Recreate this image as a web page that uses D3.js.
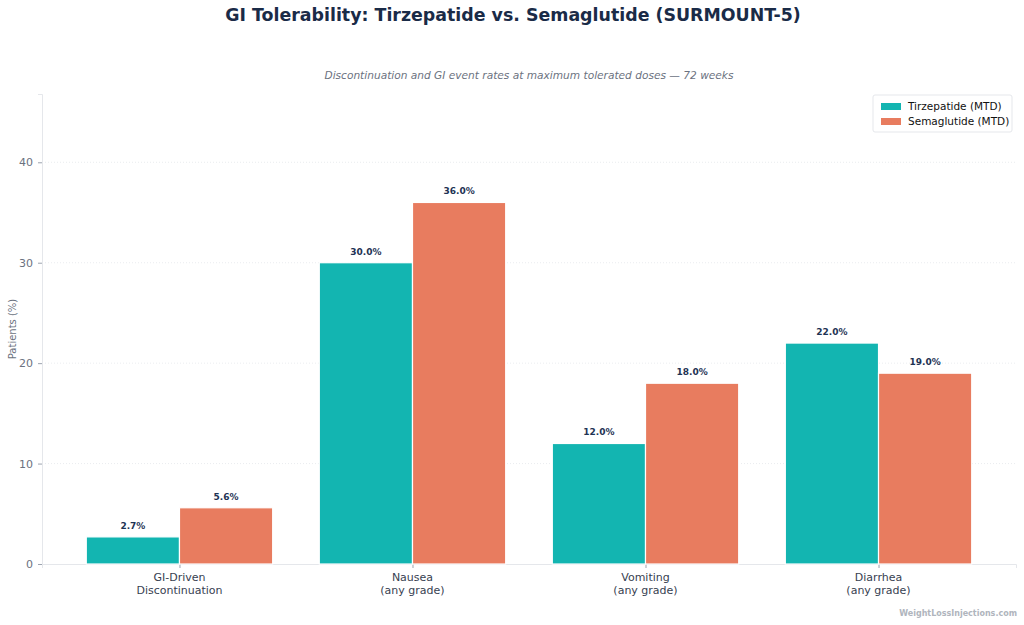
<!DOCTYPE html>
<html>
<head>
<meta charset="utf-8">
<script src="https://cdn.jsdelivr.net/npm/d3@7"></script>
<style>
  body { margin: 0; background: #fff; }
  svg { font-family: "DejaVu Sans", sans-serif; }
</style>
</head>
<body>
<div id="chart"></div>
<script>
// data
var categories = ["GI-Driven\nDiscontinuation", "Nausea\n(any grade)", "Vomiting\n(any grade)", "Diarrhea\n(any grade)"];
var seriesNames = ["Tirzepatide (MTD)", "Semaglutide (MTD)"];
var tirzepatide = [2.7, 30.0, 12.0, 22.0];
var semaglutide = [5.6, 36.0, 18.0, 19.0];
var yTicks = [0, 10, 20, 30, 40];
var colors = ["#13b5b1", "#e87c5f"];

var W = 1024, H = 625;
var margin = {top: 94, right: 8, bottom: 61, left: 42},
    width = W - margin.left - margin.right,
    height = H - margin.top - margin.bottom;

var svg = d3.select("#chart").append("svg")
    .attr("width", W)
    .attr("height", H);

// title + subtitle
svg.append("text")
    .attr("x", 513).attr("y", 21)
    .attr("text-anchor", "middle")
    .style("font-size", "17.4px").style("font-weight", "bold")
    .style("fill", "#1a2b47")
    .text("GI Tolerability: Tirzepatide vs. Semaglutide (SURMOUNT-5)");

svg.append("text")
    .attr("x", 529).attr("y", 79)
    .attr("text-anchor", "middle")
    .style("font-size", "10.6px").style("font-style", "italic")
    .style("fill", "#6b7280")
    .text("Discontinuation and GI event rates at maximum tolerated doses \u2014 72 weeks");

var g = svg.append("g")
    .attr("transform", "translate(" + margin.left + "," + margin.top + ")");

// scales
var x = d3.scaleLinear().domain([-0.59, 3.59]).range([0, width]);
var y = d3.scaleLinear().domain([0, 46.8]).range([height, 0]);
var barW = 0.4;

// grid
g.selectAll(".grid")
    .data(yTicks.slice(1))
    .enter().append("line")
    .attr("x1", 0).attr("x2", width)
    .attr("y1", function(d) { return y(d); })
    .attr("y2", function(d) { return y(d); })
    .style("stroke", "#e5e7eb").style("stroke-width", 0.8)
    .style("stroke-dasharray", "1,2");

// y axis
var yAxis = g.append("g")
    .call(d3.axisLeft(y).tickValues(yTicks).tickSize(4).tickPadding(5));
yAxis.select(".domain").style("stroke", "#e5e7eb");
yAxis.selectAll(".tick line").style("stroke", "#9ca3af");
yAxis.selectAll("text").style("font-size", "11px").style("fill", "#6b7280")
    .style("font-family", "DejaVu Sans");

// x axis
var xAxis = g.append("g")
    .attr("transform", "translate(0," + height + ")")
    .call(d3.axisBottom(x).tickValues(d3.range(categories.length)).tickSize(4).tickFormat(""));
xAxis.select(".domain").style("stroke", "#e5e7eb");
xAxis.selectAll(".tick line").style("stroke", "#9ca3af");

categories.forEach(function(c, i) {
    var t = g.append("text")
        .attr("x", x(i)).attr("y", height + 17)
        .attr("text-anchor", "middle")
        .style("font-size", "11px").style("fill", "#374151");
    c.split("\n").forEach(function(line, j) {
        t.append("tspan").attr("x", x(i)).attr("dy", j === 0 ? 0 : 13).text(line);
    });
});

// y label
svg.append("text")
    .attr("transform", "rotate(-90)")
    .attr("x", -(margin.top + height / 2)).attr("y", 16)
    .attr("text-anchor", "middle")
    .style("font-size", "10px").style("fill", "#6b7280")
    .text("Patients (%)");

// bars
var series = [tirzepatide, semaglutide];
series.forEach(function(vals, s) {
    var off = s === 0 ? -barW : 0;
    g.selectAll(".bar" + s)
        .data(vals)
        .enter().append("rect")
        .attr("x", function(d, i) { return x(i + off); })
        .attr("y", function(d) { return y(d); })
        .attr("width", x(barW) - x(0))
        .attr("height", function(d) { return height - y(d); })
        .style("fill", colors[s])
        .style("stroke", "#fff").style("stroke-width", 1.2);

    g.selectAll(".lab" + s)
        .data(vals)
        .enter().append("text")
        .attr("x", function(d, i) { return x(i + off + barW / 2); })
        .attr("y", function(d) { return y(d) - 8; })
        .attr("text-anchor", "middle")
        .style("font-size", "9px").style("font-weight", "bold")
        .style("fill", "#1e3354")
        .text(function(d) { return d.toFixed(1) + "%"; });
});

// legend
var lg = svg.append("g").attr("transform", "translate(873,95)");
lg.append("rect")
    .attr("width", 139).attr("height", 37).attr("rx", 2)
    .style("fill", "#fff").style("stroke", "#e5e7eb");
seriesNames.forEach(function(n, i) {
    lg.append("rect")
        .attr("x", 8).attr("y", 8 + i * 15)
        .attr("width", 20).attr("height", 7)
        .style("fill", colors[i]);
    lg.append("text")
        .attr("x", 35).attr("y", 15 + i * 15)
        .style("font-size", "10.5px").style("fill", "#111")
        .text(n);
});

// watermark
svg.append("text")
    .attr("x", 1017).attr("y", 616)
    .attr("text-anchor", "end")
    .style("font-size", "8px").style("font-weight", "bold")
    .style("fill", "#b0b5bd")
    .text("WeightLossInjections.com");
</script>
</body>
</html>
